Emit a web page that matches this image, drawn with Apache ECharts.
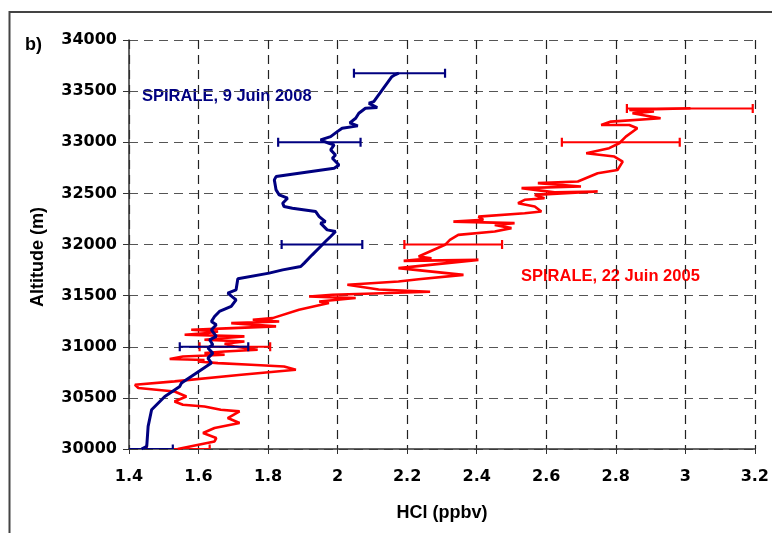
<!DOCTYPE html>
<html>
<head>
<meta charset="utf-8">
<script src="https://cdn.jsdelivr.net/npm/echarts@6/dist/echarts.min.js"></script>
<style>
  html, body { margin: 0; padding: 0; background: #fff; }
  #chart { width: 772px; height: 533px; }
</style>
</head>
<body>
<div id="chart"></div>
<script>
// SPIRALE, 9 Juin 2008 (blue)
const blueHcl = [1.436, 1.451, 1.455, 1.465, 1.503, 1.546, 1.551, 1.637, 1.627, 1.641, 1.627, 1.641, 1.632, 1.651,
    1.637, 1.651, 1.637, 1.646, 1.660, 1.694, 1.708, 1.684, 1.708, 1.713, 1.803, 1.842, 1.894, 1.904, 1.927, 1.951,
    1.965, 1.980, 1.994, 1.970, 1.951, 1.965, 1.947, 1.937, 1.870, 1.846, 1.842, 1.856, 1.832, 1.823, 1.818, 1.823,
    1.990, 2.004, 1.985, 1.994, 1.980, 1.990, 1.975, 1.951, 1.980, 1.999, 2.013, 2.058, 2.035, 2.052, 2.061, 2.080,
    2.114, 2.090, 2.104, 2.156, 2.165, 2.176];
const blueAlt = [30000, 30025, 30221, 30384, 30514, 30612, 30645, 30840, 30889, 30938, 30987, 31019, 31068, 31101,
    31166, 31215, 31247, 31296, 31345, 31394, 31459, 31525, 31557, 31665, 31720, 31752, 31785, 31818, 31899, 31980,
    32029, 32078, 32127, 32143, 32209, 32224, 32273, 32322, 32355, 32371, 32404, 32453, 32485, 32534, 32632, 32664,
    32746, 32778, 32844, 32876, 32925, 32974, 32990, 33023, 33055, 33104, 33137, 33160, 33190, 33235, 33284, 33332,
    33340, 33381, 33397, 33641, 33660, 33675];

// SPIRALE, 22 Juin 2005 (red)
const redHcl = [1.540, 1.646, 1.651, 1.613, 1.646, 1.718, 1.684, 1.718, 1.664, 1.617, 1.555, 1.531, 1.565, 1.531,
    1.427, 1.417, 1.531, 1.723, 1.880, 1.846, 1.751, 1.656, 1.598, 1.617, 1.517, 1.555, 1.675, 1.617, 1.675, 1.770,
    1.703, 1.675, 1.732, 1.617, 1.675, 1.732, 1.560, 1.627, 1.656, 1.579, 1.680, 1.823, 1.694, 1.832, 1.756, 1.813,
    1.889, 1.975, 1.947, 2.052, 1.918, 1.985, 2.266, 2.118, 2.028, 2.175, 2.233, 2.362, 2.175, 2.405, 2.190, 2.270,
    2.233, 2.309, 2.323, 2.347, 2.452, 2.500, 2.452, 2.509, 2.333, 2.419, 2.405, 2.538, 2.586, 2.567, 2.519, 2.538,
    2.595, 2.567, 2.748, 2.624, 2.529, 2.700, 2.576, 2.691, 2.748, 2.805, 2.820, 2.796, 2.715, 2.781, 2.810, 2.829,
    2.862, 2.839, 2.758, 2.786, 2.929, 2.848, 2.910, 2.839, 3.015];
const redAlt = [30000, 30074, 30107, 30156, 30205, 30254, 30303, 30368, 30384, 30416, 30433, 30465, 30514, 30563,
    30596, 30628, 30661, 30726, 30775, 30807, 30824, 30840, 30856, 30870, 30880, 30905, 30922, 30938, 30954, 30970,
    31003, 31029, 31052, 31068, 31085, 31101, 31117, 31134, 31150, 31166, 31180, 31199, 31231, 31247, 31264, 31280,
    31361, 31427, 31443, 31476, 31492, 31508, 31538, 31560, 31606, 31638, 31660, 31703, 31769, 31850, 31840, 31866,
    31883, 31997, 32045, 32094, 32127, 32160, 32192, 32209, 32224, 32241, 32273, 32306, 32322, 32371, 32404, 32437,
    32453, 32485, 32518, 32510, 32551, 32567, 32600, 32616, 32697, 32729, 32811, 32860, 32893, 32942, 32990, 33055,
    33137, 33169, 33169, 33202, 33235, 33284, 33300, 33316, 33333];

// horizontal error bars
const blueBarAlt = [30000, 31000, 32000, 33000, 33675];
const blueBarLow = [1.355, 1.546, 1.839, 1.829, 2.047];
const blueBarHigh = [1.526, 1.743, 2.071, 2.066, 2.309];
const redBarAlt = [30000, 31000, 32000, 33000, 33330];
const redBarLow = [1.451, 1.603, 2.192, 2.645, 2.832];
const redBarHigh = [1.632, 1.806, 2.473, 2.984, 3.194];

const zip = (xs, ys) => xs.map((x, i) => [x, ys[i]]);
const bars = (alts, lo, hi) => alts.map((a, i) => [lo[i], hi[i], a]);

function errorBarItem(color) {
    return function (params, api) {
        const p1 = api.coord([api.value(0), api.value(2)]);
        const p2 = api.coord([api.value(1), api.value(2)]);
        const h = 4.5;
        const style = { stroke: color, lineWidth: 2.2 };
        return {
            type: 'group',
            children: [
                { type: 'line', shape: { x1: p1[0], y1: p1[1], x2: p2[0], y2: p2[1] }, style: style },
                { type: 'line', shape: { x1: p1[0], y1: p1[1] - h, x2: p1[0], y2: p1[1] + h }, style: style },
                { type: 'line', shape: { x1: p2[0], y1: p2[1] - h, x2: p2[0], y2: p2[1] + h }, style: style }
            ]
        };
    };
}

const chart = echarts.init(document.getElementById('chart'), null, { renderer: 'canvas' });
const labelFont = { fontFamily: 'DejaVu Sans', fontWeight: 'bold', fontSize: 16, color: '#000' };

chart.setOption({
    animation: false,
    backgroundColor: '#fff',
    grid: { left: 129, right: 14, top: 40, bottom: 84 },
    xAxis: {
        type: 'value',
        min: 1.4,
        max: 3.2,
        interval: 0.2,
        name: 'HCl (ppbv)',
        nameLocation: 'middle',
        nameGap: 55,
        nameTextStyle: { fontFamily: 'Liberation Sans', fontWeight: 'bold', fontSize: 18, color: '#000' },
        axisLine: { onZero: false, lineStyle: { color: '#333', width: 1.5 } },
        axisTick: { length: 5, lineStyle: { color: '#333' } },
        axisLabel: Object.assign({ margin: 20, formatter: v => String(+v.toFixed(1)) }, labelFont),
        splitLine: { lineStyle: { color: '#222', type: [9, 6], width: 1.2 } }
    },
    yAxis: {
        type: 'value',
        min: 30000,
        max: 34000,
        interval: 500,
        axisLine: { show: true, lineStyle: { color: '#333', width: 1.5 } },
        axisTick: { show: true, length: 6, lineStyle: { color: '#333' } },
        axisLabel: Object.assign({ margin: 12, formatter: v => String(v) }, labelFont),
        splitLine: { lineStyle: { color: '#555', type: [9, 6], width: 1.2 } }
    },
    graphic: [
        { type: 'rect', shape: { x: 9.5, y: 12, width: 800, height: 600 }, style: { fill: null, stroke: '#444', lineWidth: 2 }, silent: true },
        { type: 'text', left: 25, top: 36, style: { text: 'b)', font: 'bold 18px "Liberation Sans"', fill: '#000' } },
        { type: 'text', x: 38, y: 257, rotation: Math.PI / 2, style: { text: 'Altitude (m)', font: 'bold 18px "Liberation Sans"', fill: '#000', align: 'center', verticalAlign: 'middle' } },
        { type: 'text', left: 142, top: 88, style: { text: 'SPIRALE, 9 Juin 2008', font: 'bold 16.5px "Liberation Sans"', fill: '#000080' } },
        { type: 'text', left: 521, top: 268, style: { text: 'SPIRALE, 22 Juin 2005', font: 'bold 16.5px "Liberation Sans"', fill: '#ff0000' } }
    ],
    series: [
        {
            name: 'SPIRALE, 22 Juin 2005',
            type: 'line',
            data: zip(redHcl, redAlt),
            symbol: 'none',
            lineStyle: { color: '#ff0000', width: 2.6 },
            z: 2
        },
        {
            type: 'custom',
            data: bars(redBarAlt, redBarLow, redBarHigh),
            renderItem: errorBarItem('#ff0000'),
            clip: true,
            z: 3
        },
        {
            name: 'SPIRALE, 9 Juin 2008',
            type: 'line',
            data: zip(blueHcl, blueAlt),
            symbol: 'none',
            lineStyle: { color: '#000080', width: 3 },
            z: 4
        },
        {
            type: 'custom',
            data: bars(blueBarAlt, blueBarLow, blueBarHigh),
            renderItem: errorBarItem('#000080'),
            clip: true,
            z: 5
        }
    ]
});
</script>
</body>
</html>
